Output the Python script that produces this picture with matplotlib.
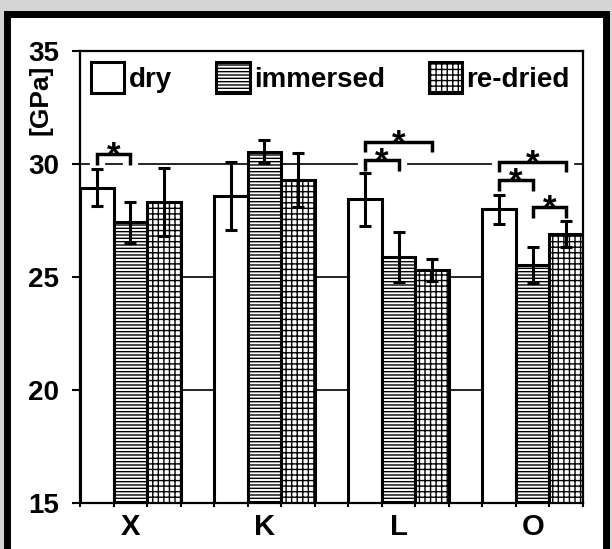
import numpy as np
import matplotlib.pyplot as plt
import matplotlib.patheffects as pe
from matplotlib.patches import Rectangle

plt.rcParams['font.family'] = ['Liberation Sans', 'DejaVu Sans']
plt.rcParams['font.weight'] = 'bold'
plt.rcParams['hatch.linewidth'] = 1.0

groups = ['X', 'K', 'L', 'O']
conditions = ['dry', 'immersed', 're-dried']
dry = [28.95, 28.58, 28.44, 28.00]
dry_err = [0.83, 1.50, 1.18, 0.65]
immersed = [27.42, 30.54, 25.90, 25.53]
immersed_err = [0.92, 0.50, 1.10, 0.80]
redried = [28.33, 29.29, 25.31, 26.89]
redried_err = [1.50, 1.20, 0.50, 0.57]
hatches = ['', '-----', '+++']

# significance brackets: (group, bar a, bar b, height)
sig_pairs = [(0, 0, 1, 30.43),
             (2, 0, 1, 30.18), (2, 0, 2, 30.99),
             (3, 0, 2, 30.10), (3, 0, 1, 29.29), (3, 1, 2, 28.08)]

fig = plt.figure(figsize=(6.12, 5.49), dpi=100, facecolor='#d4d4d4')
# white panel with heavy black frame
fig.add_artist(Rectangle((6.5 / 612, -10 / 549), 599 / 612, (549 + 10 - 13.5) / 549,
                         transform=fig.transFigure, facecolor='white',
                         edgecolor='black', linewidth=5, zorder=-1))

ax = fig.add_axes([80 / 612, 46 / 549, 503 / 612, 452 / 549])
ax.set_xlim(0, 15)
ax.set_ylim(15, 35)

series = [(dry, dry_err), (immersed, immersed_err), (redried, redried_err)]
for i, (vals, errs) in enumerate(series):
    x = np.arange(len(groups)) * 4 + i + 0.5
    ax.bar(x, vals, width=1, color='white', edgecolor='black', linewidth=2.2,
           hatch=hatches[i], label=conditions[i], zorder=2)
    ax.errorbar(x, vals, yerr=errs, fmt='none', ecolor='black', elinewidth=2.2,
                capsize=4, capthick=2.2, zorder=3)

for g, a, b, h in sig_pairs:
    xa = 4 * g + a + 0.5
    xb = 4 * g + b + 0.5
    ax.plot([xa, xa, xb, xb], [h - 0.47, h, h, h - 0.47], color='black', lw=2.5,
            solid_capstyle='butt', solid_joinstyle='miter', zorder=4,
            path_effects=[pe.Stroke(linewidth=11, foreground='white', capstyle='butt'),
                          pe.Normal()])
    ax.annotate('*', xy=((xa + xb) / 2, h), xytext=(0, -8.5), textcoords='offset points',
                ha='center', va='baseline', fontsize=25, fontweight='bold', zorder=5)

ax.set_yticks([15, 20, 25, 30, 35])
ax.tick_params(axis='y', direction='out', length=6, width=1.5, labelsize=20, pad=9)
ax.set_xticks([1.5, 5.5, 9.5, 13.5], groups)
ax.set_xticks(np.arange(16), minor=True)
ax.tick_params(axis='x', which='major', length=0, labelsize=21, pad=7)
ax.tick_params(axis='x', which='minor', direction='out', length=3, width=1.5)

ax.set_axisbelow(True)
ax.yaxis.grid(True, color='black', lw=1.2)
for s in ax.spines.values():
    s.set_linewidth(1.6)

ax.legend(loc='upper left', bbox_to_anchor=(0, 1), ncol=3, frameon=False,
          fontsize=20, handlelength=1.2, handleheight=1.35, handletextpad=0.15,
          columnspacing=1.6, borderaxespad=0.2, borderpad=0.2)

fig.text(40 / 612, 1 - 100 / 549, '[GPa]', rotation=90, ha='center', va='center',
         fontsize=19, fontweight='bold')

fig.savefig('out.png', dpi=100, facecolor=fig.get_facecolor())
